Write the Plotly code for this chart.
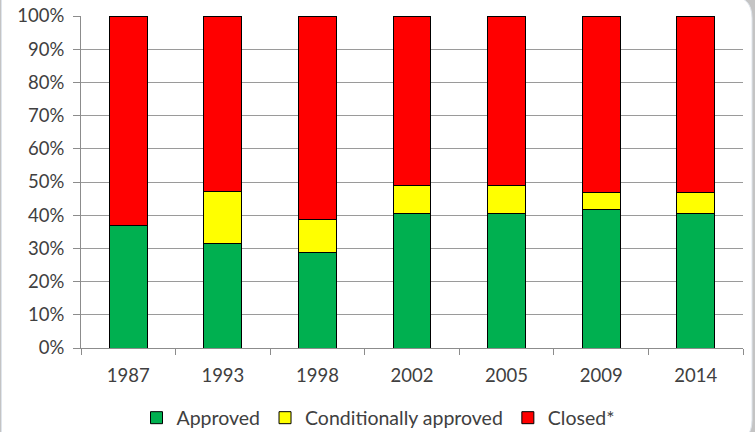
import plotly.graph_objects as go

# Share of outcomes per survey year (percent of total)
years = ["1987", "1993", "1998", "2002", "2005", "2009", "2014"]
approved = [37.0, 31.5, 28.8, 40.5, 40.5, 41.7, 40.5]
conditional = [0.0, 15.7, 9.9, 8.3, 8.3, 5.0, 6.4]
closed = [63.0, 52.8, 61.3, 51.2, 51.2, 53.3, 53.1]

series = [
    ("Approved", approved, "#00B050"),
    ("Conditionally approved", conditional, "#FFFF00"),
    ("Closed*", closed, "#FF0000"),
]

W, H = 755, 432
L, R, T, B = 81, 12, 16, 84
FONT = "Lato, Carlito, Calibri, sans-serif"
TXT = "#404040"

fig = go.Figure()
for name, vals, color in series:
    fig.add_trace(go.Bar(
        x=years, y=vals, name=name,
        marker=dict(color=color, line=dict(color="#000000", width=1)),
        width=0.4,
    ))

pw, ph = W - L - R, H - T - B


def px(x):
    return (x - L) / pw


def py(y):
    return (H - B - y) / ph


# rounded white chart area with a soft shadow outside it
r = 22
x0, x1, y0, y1 = px(1.5), px(752), py(-4), py(442)
rx, ry = r / pw, r / ph
path = (
    f"M {x0},{y0} L {x1 - rx},{y0} Q {x1},{y0} {x1},{y0 - ry} "
    f"L {x1},{y1 + ry} Q {x1},{y1} {x1 - rx},{y1} L {x0},{y1} Z"
)
fig.add_shape(type="path", path=path, xref="paper", yref="paper",
              fillcolor="#ffffff", line=dict(color="#dfe5ec", width=1),
              layer="below")

fig.update_layout(
    width=W, height=H,
    margin=dict(l=L, r=R, t=T, b=B, autoexpand=False),
    barmode="stack",
    paper_bgcolor="#c4c4c4",
    plot_bgcolor="rgba(0,0,0,0)",
    font=dict(family=FONT, size=18, color=TXT),
    showlegend=True,
    legend=dict(
        orientation="h", xref="container", x=378 / W, xanchor="center",
        yref="container", y=1 - 418 / H, yanchor="middle",
        font=dict(family=FONT, size=19.5, color=TXT),
        bgcolor="rgba(0,0,0,0)", traceorder="normal",
        itemclick=False, itemdoubleclick=False,
    ),
    bargap=0.6,
)
fig.update_xaxes(
    type="category", showline=True, linecolor="#8c8c8c", linewidth=1,
    ticks="outside", tickson="boundaries", ticklen=6, tickcolor="#8c8c8c",
    showgrid=False, tickfont=dict(family=FONT, size=18.5, color=TXT),
    ticklabelstandoff=11, fixedrange=True,
)
fig.update_yaxes(
    range=[0, 100], tickvals=list(range(0, 101, 10)),
    ticktext=[f"{v}%" for v in range(0, 101, 10)],
    showline=True, linecolor="#8c8c8c", linewidth=1,
    ticks="outside", ticklen=7, tickcolor="#8c8c8c",
    showgrid=True, gridcolor="#9a9a9a", gridwidth=1,
    zeroline=False, tickfont=dict(family=FONT, size=18.5, color=TXT),
    ticklabelstandoff=5, fixedrange=True,
)

fig.write_html("out.html", config={"displayModeBar": False})
